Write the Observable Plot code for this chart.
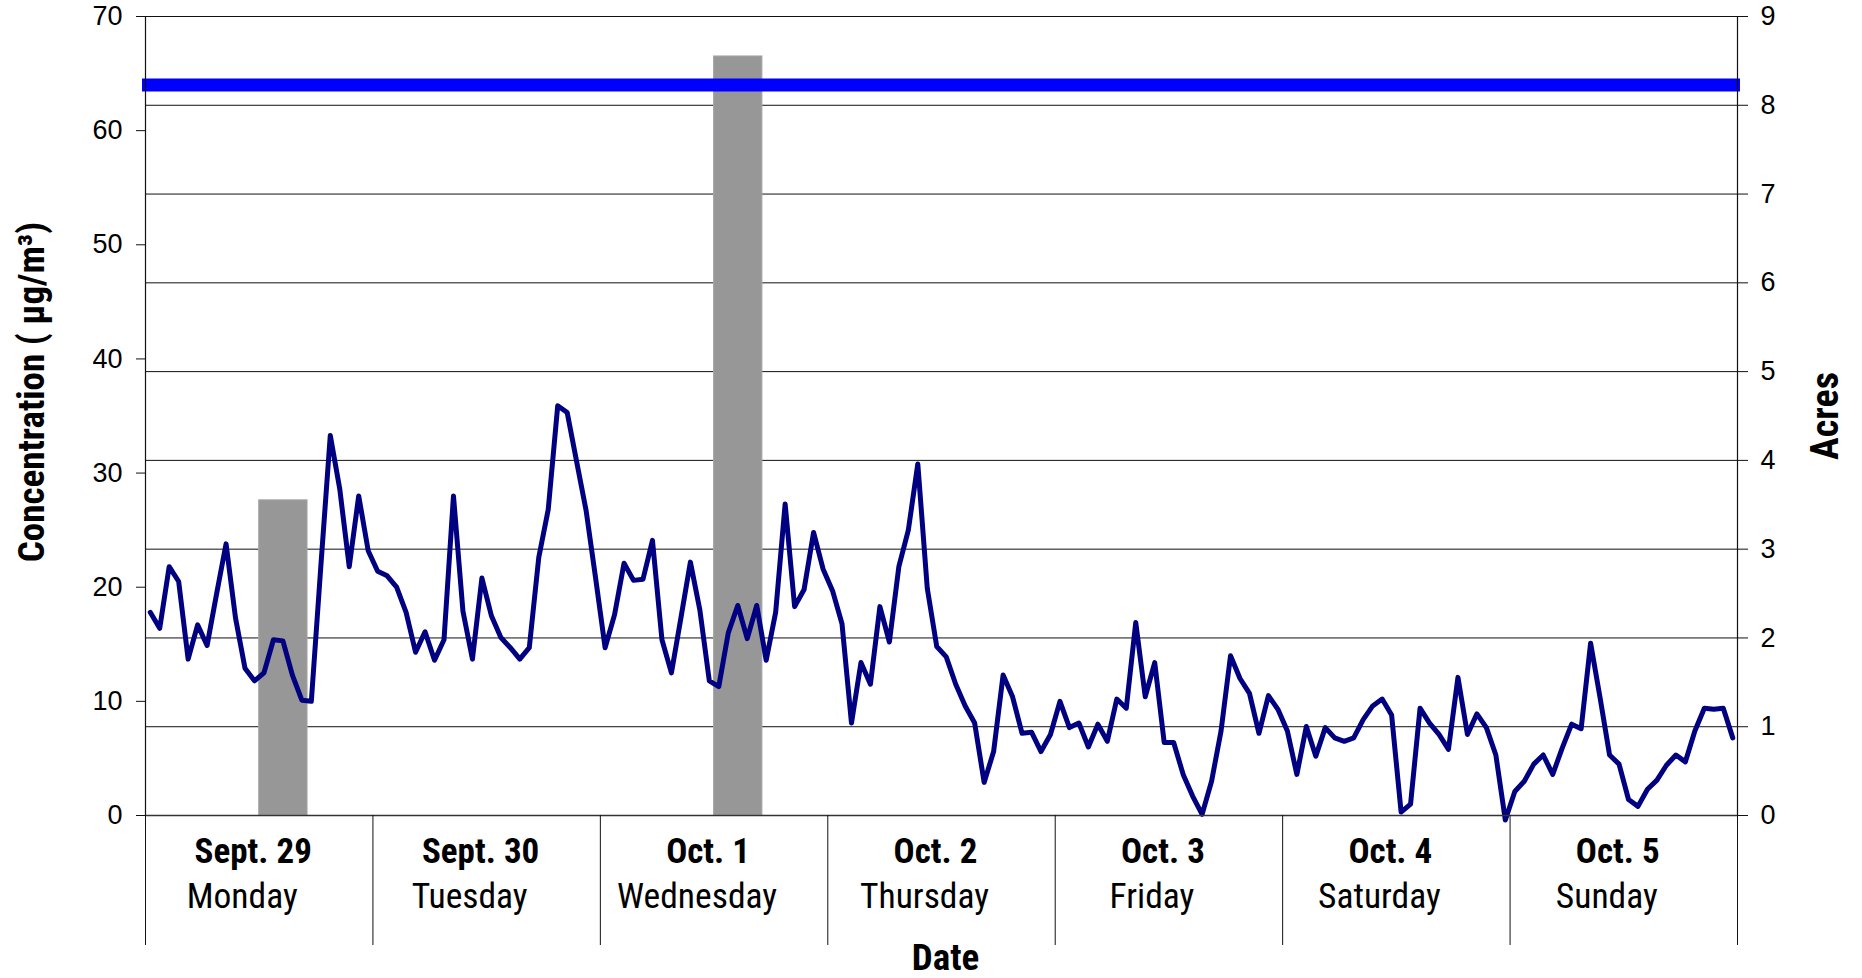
<!DOCTYPE html>
<html><head><meta charset="utf-8">
<script src="https://cdn.jsdelivr.net/npm/d3@7"></script>
<script src="https://cdn.jsdelivr.net/npm/@observablehq/plot@0.6"></script>
<style>html,body{margin:0;padding:0;background:#fff;overflow:hidden} svg{display:block}</style>
</head><body><div id="chart"></div>
<script>
// Hourly PM concentration (µg/m³), Sept. 29 00:00 through Oct. 5 23:00
const concentration = [
17.8, 16.4, 21.8, 20.5, 13.7, 16.7, 14.9, 19.4, 23.8, 17.3,
12.9, 11.8, 12.5, 15.4, 15.3, 12.3, 10.1, 10.0, 21.8, 33.3,
28.6, 21.8, 28.0, 23.2, 21.4, 21.0, 20.0, 17.8, 14.3, 16.1,
13.6, 15.4, 28.0, 17.9, 13.7, 20.8, 17.5, 15.6, 14.7, 13.7,
14.7, 22.6, 26.8, 35.9, 35.3, 31.0, 26.7, 20.8, 14.7, 17.6,
22.1, 20.6, 20.7, 24.1, 15.4, 12.5, 17.3, 22.2, 18.0, 11.8,
11.3, 16.0, 18.4, 15.5, 18.4, 13.6, 17.8, 27.3, 18.3, 19.8,
24.8, 21.6, 19.7, 16.8, 8.1, 13.4, 11.5, 18.3, 15.2, 21.8,
25.0, 30.8, 19.9, 14.8, 13.9, 11.5, 9.6, 8.1, 2.9, 5.6,
12.3, 10.4, 7.2, 7.3, 5.6, 7.1, 10.0, 7.7, 8.1, 6.0,
8.0, 6.5, 10.2, 9.4, 16.9, 10.4, 13.4, 6.4, 6.4, 3.6,
1.7, 0.1, 3.0, 7.4, 14.0, 12.0, 10.7, 7.2, 10.5, 9.3,
7.4, 3.6, 7.8, 5.2, 7.7, 6.8, 6.5, 6.8, 8.4, 9.6,
10.2, 8.8, 0.3, 1.0, 9.4, 8.1, 7.1, 5.8, 12.1, 7.1,
8.9, 7.7, 5.3, -0.4, 2.1, 3.0, 4.5, 5.3, 3.6, 5.9,
8.0, 7.6, 15.1, 10.3, 5.3, 4.5, 1.4, 0.8, 2.3, 3.1,
4.4, 5.3, 4.7, 7.4, 9.4, 9.3, 9.4, 6.8
];
// Burns (acres) — start/end hour of week
const fireStartHour = [12, 60];
const fireEndHour = [17.1, 65.1];
const fireAcres = [3.55, 8.55];
// Standard line (µg/m³)
const standardLevel = 64;
// Axis ticks & labels
const concTicks = [0, 10, 20, 30, 40, 50, 60, 70];
const acreTicks = [0, 1, 2, 3, 4, 5, 6, 7, 8, 9];
const dates = ["Sept. 29", "Sept. 30", "Oct. 1", "Oct. 2", "Oct. 3", "Oct. 4", "Oct. 5"];
const weekdays = ["Monday", "Tuesday", "Wednesday", "Thursday", "Friday", "Saturday", "Sunday"];

const HOURS_PER_DAY = 24;
const CONC_MAX = 70, ACRE_MAX = 9;
const acreToConc = a => a * CONC_MAX / ACRE_MAX;

const series = concentration.map((v, i) => ({t: i + 0.5, v}));
const fires = fireAcres.map((a, i) => ({x1: fireStartHour[i], x2: fireEndHour[i], y: acreToConc(a)}));
const dayIdx = dates.map((_, i) => i);
const dayBounds = d3.range(dates.length + 1).map(d => d * HOURS_PER_DAY);
const totalHours = dates.length * HOURS_PER_DAY;

const NARROW = '"Liberation Sans Narrow", "Arial Narrow", "Roboto Condensed", "DejaVu Sans Condensed", sans-serif';
const SANS = '"Liberation Sans", Arial, sans-serif';

const chart = Plot.plot({
  width: 1862,
  height: 978,
  marginLeft: 145,
  marginRight: 125,
  marginTop: 16,
  marginBottom: 163,
  style: {fontFamily: SANS, background: "#fff", color: "#000"},
  x: {domain: [0, totalHours], axis: null},
  y: {domain: [0, CONC_MAX], axis: null},
  marks: [
    Plot.ruleY(acreTicks.slice(1).map(acreToConc), {stroke: "#111", strokeWidth: 1}),
    Plot.rect(fires, {x1: "x1", x2: "x2", y1: 0, y2: "y", fill: "#979797", stroke: "#a6a6a6", strokeWidth: 1}),
    Plot.ruleY([standardLevel], {stroke: "#0000ff", strokeWidth: 13, insetLeft: -3, insetRight: -3}),
    Plot.line(series, {x: "t", y: "v", stroke: "#000080", strokeWidth: 5, strokeLinejoin: "round"}),
    Plot.ruleX([0, totalHours], {stroke: "#111", strokeWidth: 1.2}),
    Plot.ruleY([0], {stroke: "#333", strokeWidth: 1.5}),
    Plot.axisX({ticks: dayBounds, tickSize: 130, tickFormat: () => "", stroke: "#111"}),
    Plot.axisY({anchor: "left", ticks: concTicks, tickSize: 9, tickPadding: 14, fontSize: 27, label: null, stroke: "#111"}),
    Plot.axisY({anchor: "right", ticks: acreTicks.map(acreToConc), tickFormat: d => Math.round(d * ACRE_MAX / CONC_MAX), tickSize: 10, tickPadding: 13, fontSize: 27, label: null, stroke: "#111"}),
    Plot.text(dayIdx, {x: d => d * HOURS_PER_DAY + HOURS_PER_DAY / 2, text: d => dates[d], frameAnchor: "bottom", lineAnchor: "middle", dy: 36, dx: -6, fontSize: 35, fontWeight: "bold", fontFamily: NARROW}),
    Plot.text(dayIdx, {x: d => d * HOURS_PER_DAY + HOURS_PER_DAY / 2, text: d => weekdays[d], frameAnchor: "bottom", lineAnchor: "middle", dy: 81, dx: -17, fontSize: 35.5, fontFamily: NARROW}),
    Plot.text(["Date"], {frameAnchor: "bottom", lineAnchor: "middle", textAnchor: "middle", dy: 143, dx: 4, fontSize: 37, fontWeight: "bold", fontFamily: NARROW}),
    Plot.text(["Concentration ( µg/m³)"], {frameAnchor: "left", textAnchor: "middle", lineAnchor: "middle", rotate: -90, dx: -113, dy: -24, fontSize: 37, fontWeight: "bold", fontFamily: NARROW}),
    Plot.text(["Acres"], {frameAnchor: "right", textAnchor: "middle", lineAnchor: "middle", rotate: -90, dx: 88, dy: 0, fontSize: 38, fontWeight: "bold", fontFamily: NARROW})
  ]
});
document.getElementById("chart").appendChild(chart);
</script></body></html>
